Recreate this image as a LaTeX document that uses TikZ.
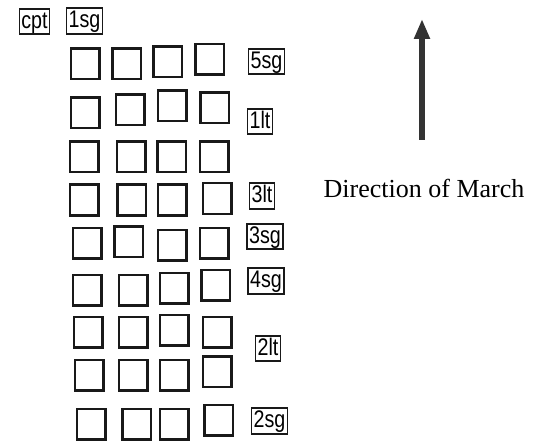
\documentclass[tikz,border=0pt]{standalone}
\usepackage{fontspec}
\setmainfont{Liberation Serif}
\newfontfamily\labfont[FakeStretch=0.82]{Liberation Sans}
\usetikzlibrary{arrows.meta}
\begin{document}
\begin{tikzpicture}[x=1pt,y=-1pt,
  sq/.style={draw=black!90, line width=2.5pt, minimum width=28.5pt, minimum height=30.5pt, inner sep=0pt},
  lab/.style={draw=black!90, line width=1.7pt, inner xsep=2pt, inner ysep=1.5pt,
    text height=18pt, text depth=4.5pt, font=\labfont\fontsize{24}{24}\selectfont},
  dirtext/.style={font=\fontsize{26}{28}\selectfont, inner sep=0pt},
  march/.style={line width=5.5pt, draw=black!80, -{Triangle[length=20pt,width=15pt]}}]
\useasboundingbox (0,0) rectangle (541,441);
% labels top
\node[lab] (cpt) at (34.5,21.5) {cpt};
\node[lab] (sg1) at (84.5,21) {1sg};
% squares
\foreach \r/\y/\a/\b/\c/\d/\ya/\yb/\yc/\yd in {
 1/64/85/126.5/167.5/209.5/0/0/-2/-4.5,
 2/110/85/130/172/214.5/3/0/-4/-2,
 3/157/84/131/171.5/214/0/0/0/0,
 4/200/84/131.5/172/217/0/0/0/-1.5,
 5/243/87/128.5/172/214/0/-1.5/2/0,
 6/290/87/133/174/215.5/0/0/-2/-5,
 7/332/88/133/174/217/0/0/-2/0,
 8/375/89/133/174/217/0/0/0/-3.5,
 9/422/91/136.5/174/218.5/2/2/2/-2}{
  \node[sq] (r\r c1) at (\a,\y+\ya) {};
  \node[sq] (r\r c2) at (\b,\y+\yb) {};
  \node[sq] (r\r c3) at (\c,\y+\yc) {};
  \node[sq] (r\r c4) at (\d,\y+\yd) {};
}
% labels right
\node[lab] (sg5) at (266.5,61.5) {5sg};
\node[lab] (lt1) at (260,121.5) {1lt};
\node[lab] (lt3) at (262,196) {3lt};
\node[lab] (sg3) at (265,236.5) {3sg};
\node[lab] (sg4) at (266,281) {4sg};
\node[lab] (lt2) at (268,348.5) {2lt};
\node[lab] (sg2) at (269.5,421) {2sg};
% direction arrow
\coordinate (abot) at (422,140);
\coordinate (atop) at (422,19);
\draw[march] (abot) -- (atop);
\node[dirtext, anchor=base] (dir) at (424,197) {Direction of March};
\end{tikzpicture}
\end{document}
